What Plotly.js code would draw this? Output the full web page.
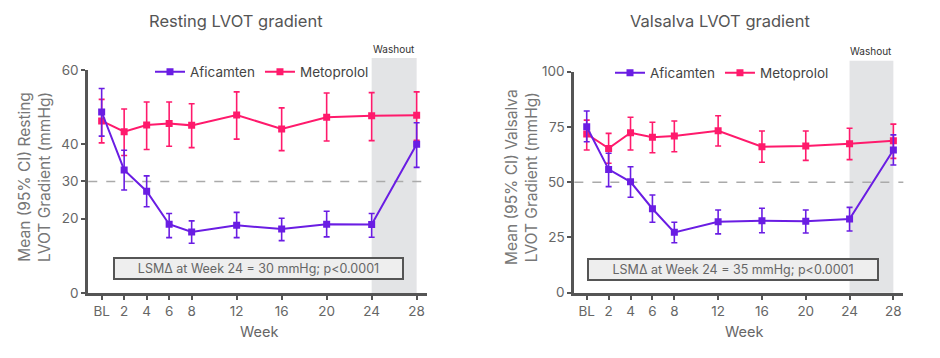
<!DOCTYPE html>
<html>
<head>
<meta charset="utf-8">
<script src="https://cdn.plot.ly/plotly-3.0.1.min.js"></script>
<style>html,body{margin:0;padding:0;background:#fff;}#chart{width:940px;height:358px;}</style>
</head>
<body>
<div id="chart"></div>
<script>
// Weeks (BL = baseline = week 0)
const weeks = [0, 2, 4, 6, 8, 12, 16, 20, 24, 28];
const weekLabels = ["BL", "2", "4", "6", "8", "12", "16", "20", "24", "28"];

// Resting LVOT gradient (mmHg): mean, upper CI, lower CI
const restAfiMean = [48.7, 33.1, 27.4, 18.5, 16.4, 18.2, 17.2, 18.5, 18.4, 40.0];
const restAfiHi   = [55.0, 38.4, 31.5, 21.4, 19.4, 21.7, 20.1, 22.0, 21.4, 45.8];
const restAfiLo   = [42.2, 27.7, 23.2, 14.9, 13.4, 14.9, 14.1, 15.1, 15.0, 33.8];
const restMetMean = [46.3, 43.4, 45.2, 45.6, 45.1, 47.9, 44.1, 47.3, 47.7, 47.8];
const restMetHi   = [52.1, 49.5, 51.4, 51.4, 50.9, 54.1, 49.8, 53.8, 53.9, 54.1];
const restMetLo   = [40.4, 37.0, 38.6, 39.5, 39.1, 41.4, 38.3, 40.9, 41.0, 41.1];

// Valsalva LVOT gradient (mmHg)
const valsAfiMean = [75.1, 55.8, 50.2, 38.0, 27.3, 32.1, 32.6, 32.3, 33.3, 64.6];
const valsAfiHi   = [82.2, 63.1, 57.0, 44.2, 31.9, 37.4, 38.2, 37.4, 38.6, 71.4];
const valsAfiLo   = [68.3, 48.0, 43.2, 31.9, 22.6, 26.6, 27.1, 27.0, 27.9, 57.8];
const valsMetMean = [71.8, 65.3, 72.4, 70.3, 70.9, 73.3, 66.1, 66.4, 67.4, 68.8];
const valsMetHi   = [78.1, 72.1, 79.4, 77.1, 77.7, 80.1, 73.2, 73.2, 74.4, 76.3];
const valsMetLo   = [64.6, 58.6, 64.6, 63.3, 63.8, 66.4, 59.0, 59.9, 60.2, 60.8];

const restTicks = [0, 20, 30, 40, 60];
const valsTicks = [0, 25, 50, 75, 100];
const restThreshold = 30;
const valsThreshold = 50;
const washoutStart = 24, washoutEnd = 28;

const AFI = '#6a1de3';
const MET = '#ff1a6c';
const FONT = 'Inter, Roboto, "Noto Sans", sans-serif';

function tr(name, mean, hi, lo, color, xa, ya, legend) {
  return {
    type: 'scatter', mode: 'lines+markers', name: name,
    x: weeks, y: mean, xaxis: xa, yaxis: ya, legend: legend, showlegend: true,
    line: {color: color, width: 2},
    marker: {symbol: 'square', size: 7, color: color},
    error_y: {type: 'data', symmetric: false,
      array: hi.map((v, i) => v - mean[i]),
      arrayminus: mean.map((v, i) => v - lo[i]),
      color: color, thickness: 1.6, width: 3}
  };
}

const data = [
  tr('Metoprolol', restMetMean, restMetHi, restMetLo, MET, 'x', 'y', 'legend'),
  tr('Aficamten', restAfiMean, restAfiHi, restAfiLo, AFI, 'x', 'y', 'legend'),
  tr('Metoprolol', valsMetMean, valsMetHi, valsMetLo, MET, 'x2', 'y2', 'legend2'),
  tr('Aficamten', valsAfiMean, valsAfiHi, valsAfiLo, AFI, 'x2', 'y2', 'legend2')
];

const axisCommon = {
  showline: true, linecolor: '#555', linewidth: 3, zeroline: false, showgrid: false,
  ticks: 'outside', ticklen: 4, tickwidth: 2, tickcolor: '#555',
  tickfont: {family: FONT, size: 13.5, color: '#666'}, fixedrange: true
};

function ann(x, y, text, size, color, extra) {
  return Object.assign({xref: 'paper', yref: 'paper', x: x / 940, y: 1 - y / 358, text: text,
    showarrow: false, xanchor: 'center', yanchor: 'middle',
    font: {family: FONT, size: size, color: color}}, extra || {});
}

const layout = {
  width: 940, height: 358,
  margin: {l: 0, r: 0, t: 0, b: 0},
  paper_bgcolor: '#fff', plot_bgcolor: 'rgba(0,0,0,0)',
  font: {family: FONT, color: '#666'},
  xaxis: Object.assign({}, axisCommon, {domain: [0.0939, 0.4539], range: [-1.19, 28.89],
    tickvals: weeks, ticktext: weekLabels, anchor: 'y'}),
  yaxis: Object.assign({}, axisCommon, {domain: [0.1816, 0.8045], range: [0, 60],
    tickvals: restTicks, anchor: 'x'}),
  xaxis2: Object.assign({}, axisCommon, {domain: [0.611, 0.961], range: [-1.13, 28.91],
    tickvals: weeks, ticktext: weekLabels, anchor: 'y2'}),
  yaxis2: Object.assign({}, axisCommon, {domain: [0.1824, 0.7997], range: [0, 100],
    tickvals: valsTicks, anchor: 'x2'}),
  legend: {orientation: 'h', x: 150 / 940, y: 1 - 72 / 358, xanchor: 'left', yanchor: 'middle',
    traceorder: 'reversed', itemwidth: 30, bgcolor: 'rgba(0,0,0,0)',
    font: {family: FONT, size: 13.5, color: '#444'}},
  legend2: {orientation: 'h', x: 610 / 940, y: 1 - 73 / 358, xanchor: 'left', yanchor: 'middle',
    traceorder: 'reversed', itemwidth: 30, bgcolor: 'rgba(0,0,0,0)',
    font: {family: FONT, size: 13.5, color: '#444'}},
  shapes: [
    {type: 'rect', layer: 'below', xref: 'x', yref: 'y domain', x0: washoutStart, x1: washoutEnd,
      y0: 0, y1: 1.054, fillcolor: '#e3e4e6', line: {width: 0}},
    {type: 'rect', layer: 'below', xref: 'x2', yref: 'y2 domain', x0: washoutStart, x1: washoutEnd,
      y0: 0, y1: 1.05, fillcolor: '#e3e4e6', line: {width: 0}},
    {type: 'line', layer: 'below', xref: 'x domain', yref: 'y', x0: 0, x1: 1, y0: restThreshold, y1: restThreshold,
      line: {color: '#aaa', width: 1.5, dash: 'dash'}},
    {type: 'line', layer: 'below', xref: 'x2 domain', yref: 'y2', x0: 0, x1: 1, y0: valsThreshold, y1: valsThreshold,
      line: {color: '#aaa', width: 1.5, dash: 'dash'}}
  ],
  annotations: [
    ann(236, 21, 'Resting LVOT gradient', 16.5, '#555'),
    ann(720, 21, 'Valsalva LVOT gradient', 16.5, '#555'),
    ann(35, 177, 'Mean (95% CI) Resting<br>LVOT Gradient (mmHg)', 15.5, '#777', {textangle: -90}),
    ann(522, 177, 'Mean (95% CI) Valsalva<br>LVOT Gradient (mmHg)', 15.5, '#777', {textangle: -90}),
    ann(259, 331, 'Week', 14.5, '#666'),
    ann(744, 331, 'Week', 14.5, '#666'),
    {xref: 'x', yref: 'paper', x: 26, y: 1 - 49 / 358, xanchor: 'center', yanchor: 'middle', text: 'Washout',
      showarrow: false, font: {family: FONT, size: 10, color: '#333'}},
    {xref: 'x2', yref: 'paper', x: 26, y: 1 - 51 / 358, xanchor: 'center', yanchor: 'middle', text: 'Washout',
      showarrow: false, font: {family: FONT, size: 10, color: '#333'}},
    {xref: 'x', yref: 'y', x: 13.94, y: 6.6, xanchor: 'center', yanchor: 'middle',
      text: 'LSMΔ at Week 24 = 30 mmHg; p<0.0001', showarrow: false,
      bgcolor: '#eeeeee', bordercolor: '#555', borderwidth: 2, borderpad: 1, width: 285, height: 17,
      font: {family: FONT, size: 12.5, color: '#666'}},
    {xref: 'x2', yref: 'y2', x: 13.36, y: 10.7, xanchor: 'center', yanchor: 'middle',
      text: 'LSMΔ at Week 24 = 35 mmHg; p<0.0001', showarrow: false,
      bgcolor: '#eeeeee', bordercolor: '#555', borderwidth: 2, borderpad: 1, width: 286, height: 17,
      font: {family: FONT, size: 12.5, color: '#666'}}
  ]
};

Plotly.newPlot('chart', data, layout, {displayModeBar: false, staticPlot: true});
</script>
</body>
</html>
